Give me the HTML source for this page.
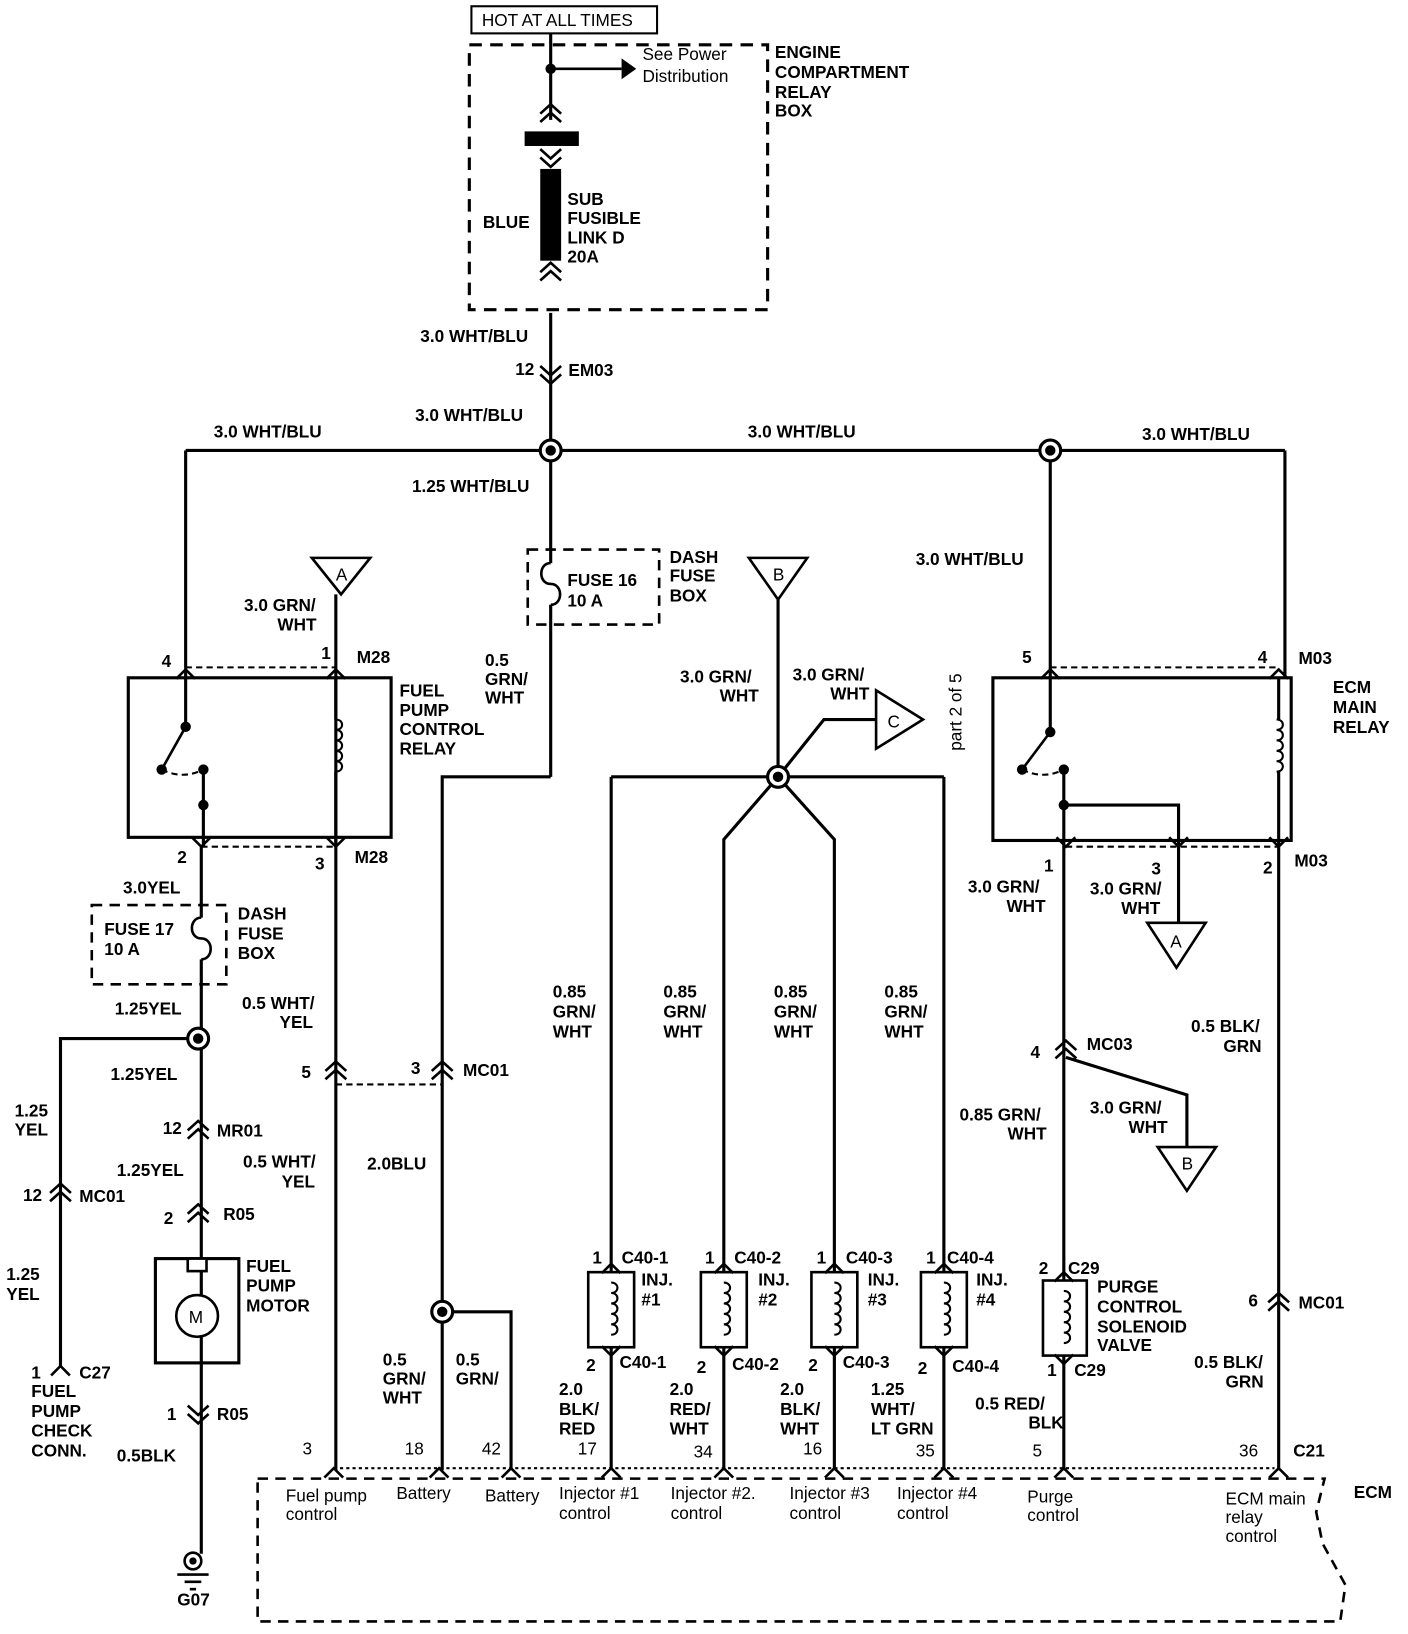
<!DOCTYPE html>
<html><head><meta charset="utf-8"><style>
html,body{margin:0;padding:0;background:#fff;}
svg{display:block;}
text{font-family:"Liberation Sans",sans-serif;font-weight:bold;font-size:16.5px;fill:#000;dominant-baseline:central;}
.n{font-weight:normal;}
</style></head><body>
<svg width="1408" height="1634" viewBox="0 0 1350 1567" preserveAspectRatio="none" xmlns="http://www.w3.org/2000/svg">
<defs>
<g id="cu" fill="none" stroke="#000" stroke-width="2.5"><polyline points="-10,9 0,0 10,9"/><polyline points="-10,17 0,8 10,17"/></g>
<g id="cd" fill="none" stroke="#000" stroke-width="2.5"><polyline points="-10,-9 0,0 10,-9"/><polyline points="-10,-17 0,-8 10,-17"/></g>
<g id="au" fill="none" stroke="#000" stroke-width="2.5"><polyline points="-9,9 0,0 9,9"/></g>
<g id="ad" fill="none" stroke="#000" stroke-width="2.5"><polyline points="-9,-9 0,0 9,-9"/></g>
<g id="jn"><circle r="10" fill="#fff" stroke="#000" stroke-width="3"/><circle r="5" fill="#000"/></g>
<g id="coil" fill="none" stroke="#000" stroke-width="2"><path d="M0,0 c8,0 8,10 0,10 c8,0 8,10 0,10 c8,0 8,10 0,10 c8,0 8,10 0,10 c8,0 8,10 0,10"/></g>
<g id="fuse" fill="none" stroke="#000" stroke-width="2.5"><path d="M0,0 c-12,0 -12,20 0,20 c12,0 12,20 0,20"/></g>
</defs>
<g stroke="#000" stroke-width="3" fill="none">
<rect x="452" y="6" width="178" height="26" stroke-width="2"/>
<rect x="450" y="43" width="286" height="254" stroke-dasharray="12,8"/>
<line x1="528" y1="32" x2="528" y2="115"/>
<line x1="528" y1="66" x2="596" y2="66" stroke-width="2.5"/>
<line x1="528" y1="300" x2="528" y2="432"/>
<line x1="178" y1="432" x2="1232" y2="432"/>
<line x1="178" y1="432" x2="178" y2="640"/>
<line x1="528" y1="432" x2="528" y2="540"/>
<line x1="528" y1="580" x2="528" y2="745"/>
<polyline points="528,745 424,745 424,1410"/>
<line x1="322" y1="570" x2="322" y2="1410"/>
<rect x="123" y="650" width="252" height="153"/>
<line x1="178" y1="640" x2="178" y2="697"/>
<line x1="178" y1="697" x2="155" y2="738" stroke-width="2.5"/>
<line x1="195" y1="738" x2="195" y2="812"/>
<line x1="322" y1="650" x2="322" y2="690"/><line x1="322" y1="740" x2="322" y2="812"/>
<line x1="193" y1="812" x2="193" y2="880"/><line x1="193" y1="920" x2="193" y2="1490"/>
<polyline points="190,996 58,996 58,1310"/>
<rect x="506" y="527" width="126" height="72" stroke-dasharray="10,7" stroke-width="2.5"/>
<rect x="88" y="868" width="129" height="76" stroke-dasharray="10,7" stroke-width="2.5"/>
<rect x="149" y="1207" width="80" height="100"/>
<polyline points="424,1258 490,1258 490,1410"/>
<line x1="746" y1="575" x2="746" y2="745"/>
<polyline points="746,745 790,690 840,690"/>
<line x1="586" y1="745" x2="905" y2="745"/>
<line x1="586" y1="745" x2="586" y2="1410"/>
<line x1="905" y1="745" x2="905" y2="1410"/>
<polyline points="746,745 694,805 694,1410"/>
<polyline points="746,745 800,805 800,1410"/>
<line x1="1007" y1="432" x2="1007" y2="702"/>
<line x1="1232" y1="432" x2="1232" y2="650"/>
<rect x="952" y="650" width="286" height="156"/>
<line x1="1007" y1="702" x2="980" y2="738" stroke-width="2.5"/>
<line x1="1020" y1="738" x2="1020" y2="1410"/>
<polyline points="1020,772 1130,772 1130,885"/>
<line x1="1226" y1="650" x2="1226" y2="690"/><line x1="1226" y1="740" x2="1226" y2="1410"/>
<polyline points="1022,1014 1138,1050 1138,1100"/>
<path d="M247,1418 L1270,1418 L1262,1450 L1268,1480 L1290,1520 L1285,1555 L247,1555 Z" stroke-dasharray="10,7" stroke-width="2.5"/>
</g>
<g stroke="#000" stroke-width="2" stroke-dasharray="6,4" fill="none">
<line x1="178" y1="640" x2="322" y2="640"/><line x1="193" y1="812" x2="322" y2="812"/>
<line x1="322" y1="1040" x2="424" y2="1040"/>
<line x1="1007" y1="640" x2="1226" y2="640"/><line x1="1022" y1="812" x2="1226" y2="812"/>
<line x1="320" y1="1408" x2="1222" y2="1408" stroke-dasharray="3,3"/>
<path d="M155,738 q20,10 40,0"/><path d="M980,738 q20,10 40,0"/>
</g>
<g fill="#000">
<circle cx="528" cy="66" r="5"/><circle cx="178" cy="697" r="5"/><circle cx="155" cy="738" r="5"/><circle cx="195" cy="738" r="5"/><circle cx="195" cy="772" r="5"/>
<circle cx="1007" cy="702" r="5"/><circle cx="980" cy="738" r="5"/><circle cx="1020" cy="738" r="5"/><circle cx="1020" cy="772" r="5"/>
<polygon points="596,56 610,66 596,76"/>
<rect x="503" y="126" width="52" height="14"/>
<rect x="518" y="162" width="20" height="88"/>
</g>
<use href="#cu" x="528" y="100"/><use href="#cd" x="528" y="160"/><use href="#cu" x="528" y="252"/>
<use href="#cd" x="528" y="368"/>
<use href="#jn" x="528" y="432"/><use href="#jn" x="1007" y="432"/><use href="#jn" x="746" y="745"/><use href="#jn" x="190" y="996"/><use href="#jn" x="424" y="1258"/>
<use href="#fuse" x="528" y="540"/><use href="#fuse" x="193" y="880"/>
<use href="#au" x="178" y="642"/><use href="#au" x="322" y="642"/><use href="#ad" x="193" y="812"/><use href="#ad" x="322" y="812"/>
<use href="#au" x="1007" y="642"/><use href="#au" x="1226" y="642"/><use href="#ad" x="1022" y="812"/><use href="#ad" x="1130" y="812"/><use href="#ad" x="1226" y="812"/>
<use href="#coil" x="322" y="690"/><use href="#coil" x="1224" y="690"/>
<use href="#cu" x="322" y="1018"/><use href="#cu" x="424" y="1018"/><use href="#cu" x="190" y="1075"/><use href="#cu" x="58" y="1135"/><use href="#cu" x="190" y="1155"/>
<use href="#au" x="58" y="1310"/><use href="#cd" x="190" y="1365"/>
<use href="#cu" x="1022" y="998"/><use href="#cu" x="1226" y="1240"/>
<g fill="#fff" stroke="#000" stroke-width="2.5">
<rect x="564" y="1220" width="44" height="72"/><rect x="672" y="1220" width="44" height="72"/><rect x="778" y="1220" width="44" height="72"/><rect x="883" y="1220" width="44" height="72"/><rect x="1000" y="1228" width="42" height="72"/>
<polygon points="299,535 355,535 327,570"/><polygon points="718,535 774,535 746,575"/><polygon points="840,662 840,718 885,690"/>
<polygon points="1100,885 1156,885 1128,928"/><polygon points="1110,1100 1166,1100 1138,1142"/>
<circle cx="189" cy="1262" r="20"/><rect x="180" y="1207" width="18" height="12"/>
<circle cx="185" cy="1497" r="8"/>
</g>
<circle cx="185" cy="1497" r="3.5" fill="#000"/>
<g stroke="#000" stroke-width="2.5"><line x1="170" y1="1510" x2="200" y2="1510"/><line x1="177" y1="1517" x2="193" y2="1517"/><line x1="182" y1="1524" x2="188" y2="1524"/></g>
<use href="#coil" x="586" y="1230"/><use href="#coil" x="694" y="1230"/><use href="#coil" x="800" y="1230"/><use href="#coil" x="905" y="1230"/><use href="#coil" x="1020" y="1238"/>
<g>
<use href="#au" x="586" y="1212"/><use href="#ad" x="586" y="1300"/><use href="#au" x="694" y="1212"/><use href="#ad" x="694" y="1300"/><use href="#au" x="800" y="1212"/><use href="#ad" x="800" y="1300"/><use href="#au" x="905" y="1212"/><use href="#ad" x="905" y="1300"/><use href="#au" x="1020" y="1220"/><use href="#ad" x="1020" y="1308"/>
<use href="#au" x="320" y="1408"/><use href="#au" x="421" y="1408"/><use href="#au" x="490" y="1408"/><use href="#au" x="586" y="1408"/><use href="#au" x="694" y="1408"/><use href="#au" x="800" y="1408"/><use href="#au" x="905" y="1408"/><use href="#au" x="1020" y="1408"/><use href="#au" x="1226" y="1408"/>
</g>
<text x="462" y="19" class="n">HOT AT ALL TIMES</text>
<text x="616" y="52" class="n" font-size="18">See Power</text><text x="616" y="73" class="n" font-size="18">Distribution</text>
<text x="743" y="50">ENGINE</text><text x="743" y="69">COMPARTMENT</text><text x="743" y="88">RELAY</text><text x="743" y="106">BOX</text>
<text x="463" y="213">BLUE</text>
<text x="544" y="191">SUB</text><text x="544" y="209">FUSIBLE</text><text x="544" y="228">LINK D</text><text x="544" y="246">20A</text>
<text x="403" y="322">3.0 WHT/BLU</text><text x="494" y="354">12</text><text x="545" y="355">EM03</text>
<text x="398" y="398">3.0 WHT/BLU</text><text x="205" y="414">3.0 WHT/BLU</text><text x="717" y="414">3.0 WHT/BLU</text><text x="1095" y="416">3.0 WHT/BLU</text>
<text x="395" y="466">1.25 WHT/BLU</text>
<text x="322" y="551" class="n" font-size="15">A</text><text x="741" y="551" class="n" font-size="15">B</text><text x="851" y="692" class="n" font-size="15">C</text>
<text x="1122" y="903" class="n" font-size="15">A</text><text x="1133" y="1116" class="n" font-size="15">B</text>
<text x="544" y="556">FUSE 16</text><text x="544" y="576">10 A</text>
<text x="642" y="534">DASH</text><text x="642" y="552">FUSE</text><text x="642" y="571">BOX</text>
<text x="234" y="580">3.0 GRN/</text><text x="266" y="599">WHT</text>
<text x="308" y="626">1</text><text x="342" y="630">M28</text><text x="155" y="634">4</text>
<text x="465" y="633">0.5</text><text x="465" y="651">GRN/</text><text x="465" y="669">WHT</text>
<text x="383" y="662">FUEL</text><text x="383" y="681">PUMP</text><text x="383" y="699">CONTROL</text><text x="383" y="718">RELAY</text>
<text x="170" y="822">2</text><text x="302" y="828">3</text><text x="340" y="822">M28</text>
<text x="118" y="851">3.0YEL</text>
<text x="100" y="891">FUSE 17</text><text x="100" y="910">10 A</text>
<text x="228" y="876">DASH</text><text x="228" y="895">FUSE</text><text x="228" y="914">BOX</text>
<text x="110" y="967">1.25YEL</text><text x="232" y="962">0.5 WHT/</text><text x="268" y="980">YEL</text>
<text x="106" y="1030">1.25YEL</text><text x="289" y="1028">5</text><text x="394" y="1024">3</text><text x="444" y="1026">MC01</text>
<text x="14" y="1065">1.25</text><text x="14" y="1083">YEL</text>
<text x="156" y="1082">12</text><text x="208" y="1084">MR01</text>
<text x="112" y="1122">1.25YEL</text><text x="233" y="1114">0.5 WHT/</text><text x="270" y="1133">YEL</text><text x="352" y="1116">2.0BLU</text>
<text x="22" y="1146">12</text><text x="76" y="1147">MC01</text>
<text x="157" y="1168">2</text><text x="214" y="1164">R05</text>
<text x="236" y="1214">FUEL</text><text x="236" y="1233">PUMP</text><text x="236" y="1252">MOTOR</text>
<text x="181" y="1263" class="n" font-size="14">M</text>
<text x="6" y="1222">1.25</text><text x="6" y="1241">YEL</text>
<text x="30" y="1316">1</text><text x="76" y="1316">C27</text>
<text x="30" y="1334">FUEL</text><text x="30" y="1353">PUMP</text><text x="30" y="1372">CHECK</text><text x="30" y="1391">CONN.</text>
<text x="160" y="1356">1</text><text x="208" y="1356">R05</text><text x="112" y="1396">0.5BLK</text><text x="170" y="1534">G07</text>
<text x="367" y="1304">0.5</text><text x="367" y="1322">GRN/</text><text x="367" y="1340">WHT</text>
<text x="437" y="1304">0.5</text><text x="437" y="1322">GRN/</text>
<text x="652" y="649">3.0 GRN/</text><text x="690" y="667">WHT</text>
<text x="760" y="647">3.0 GRN/</text><text x="796" y="665">WHT</text>
<text transform="translate(916,720) rotate(-90)" class="n">part 2 of 5</text>
<text x="530" y="951">0.85</text><text x="530" y="970">GRN/</text><text x="530" y="989">WHT</text>
<text x="636" y="951">0.85</text><text x="636" y="970">GRN/</text><text x="636" y="989">WHT</text>
<text x="742" y="951">0.85</text><text x="742" y="970">GRN/</text><text x="742" y="989">WHT</text>
<text x="848" y="951">0.85</text><text x="848" y="970">GRN/</text><text x="848" y="989">WHT</text>
<text x="568" y="1206">1</text><text x="596" y="1206">C40-1</text><text x="615" y="1227">INJ.</text><text x="615" y="1246">#1</text>
<text x="676" y="1206">1</text><text x="704" y="1206">C40-2</text><text x="727" y="1227">INJ.</text><text x="727" y="1246">#2</text>
<text x="783" y="1206">1</text><text x="811" y="1206">C40-3</text><text x="832" y="1227">INJ.</text><text x="832" y="1246">#3</text>
<text x="888" y="1206">1</text><text x="908" y="1206">C40-4</text><text x="936" y="1227">INJ.</text><text x="936" y="1246">#4</text>
<text x="562" y="1309">2</text><text x="594" y="1306">C40-1</text>
<text x="668" y="1311">2</text><text x="702" y="1308">C40-2</text>
<text x="775" y="1309">2</text><text x="808" y="1306">C40-3</text>
<text x="880" y="1312">2</text><text x="913" y="1310">C40-4</text>
<text x="536" y="1332">2.0</text><text x="536" y="1351">BLK/</text><text x="536" y="1370">RED</text>
<text x="642" y="1332">2.0</text><text x="642" y="1351">RED/</text><text x="642" y="1370">WHT</text>
<text x="748" y="1332">2.0</text><text x="748" y="1351">BLK/</text><text x="748" y="1370">WHT</text>
<text x="835" y="1332">1.25</text><text x="835" y="1351">WHT/</text><text x="835" y="1370">LT GRN</text>
<text x="878" y="536">3.0 WHT/BLU</text>
<text x="980" y="630">5</text><text x="1206" y="630">4</text><text x="1245" y="631">M03</text>
<text x="1278" y="659">ECM</text><text x="1278" y="678">MAIN</text><text x="1278" y="697">RELAY</text>
<text x="1001" y="830">1</text><text x="1104" y="833">3</text><text x="1211" y="832">2</text><text x="1241" y="825">M03</text>
<text x="928" y="850">3.0 GRN/</text><text x="965" y="869">WHT</text>
<text x="1045" y="852">3.0 GRN/</text><text x="1075" y="871">WHT</text>
<text x="1142" y="984">0.5 BLK/</text><text x="1173" y="1003">GRN</text>
<text x="988" y="1009">4</text><text x="1042" y="1001">MC03</text>
<text x="1045" y="1062">3.0 GRN/</text><text x="1082" y="1081">WHT</text>
<text x="920" y="1069">0.85 GRN/</text><text x="966" y="1087">WHT</text>
<text x="996" y="1216">2</text><text x="1024" y="1216">C29</text><text x="1004" y="1314">1</text><text x="1030" y="1314">C29</text>
<text x="1052" y="1234">PURGE</text><text x="1052" y="1253">CONTROL</text><text x="1052" y="1272">SOLENOID</text><text x="1052" y="1290">VALVE</text>
<text x="1197" y="1247">6</text><text x="1245" y="1249">MC01</text>
<text x="1145" y="1306">0.5 BLK/</text><text x="1175" y="1325">GRN</text>
<text x="935" y="1346">0.5 RED/</text><text x="986" y="1364">BLK</text>
<text x="290" y="1389" class="n">3</text><text x="388" y="1389" class="n">18</text><text x="462" y="1389" class="n">42</text><text x="554" y="1389" class="n">17</text><text x="665" y="1392" class="n">34</text><text x="770" y="1389" class="n">16</text><text x="878" y="1391" class="n">35</text><text x="990" y="1391" class="n">5</text><text x="1188" y="1391" class="n">36</text><text x="1240" y="1391">C21</text>
<text x="1298" y="1431">ECM</text>
<text x="274" y="1434" class="n">Fuel pump</text><text x="274" y="1452" class="n">control</text>
<text x="380" y="1432" class="n">Battery</text><text x="465" y="1434" class="n">Battery</text>
<text x="536" y="1432" class="n">Injector #1</text><text x="536" y="1451" class="n">control</text>
<text x="643" y="1432" class="n">Injector #2.</text><text x="643" y="1451" class="n">control</text>
<text x="757" y="1432" class="n">Injector #3</text><text x="757" y="1451" class="n">control</text>
<text x="860" y="1432" class="n">Injector #4</text><text x="860" y="1451" class="n">control</text>
<text x="985" y="1435" class="n">Purge</text><text x="985" y="1453" class="n">control</text>
<text x="1175" y="1437" class="n">ECM main</text><text x="1175" y="1455" class="n">relay</text><text x="1175" y="1473" class="n">control</text>
</svg>
</body></html>
